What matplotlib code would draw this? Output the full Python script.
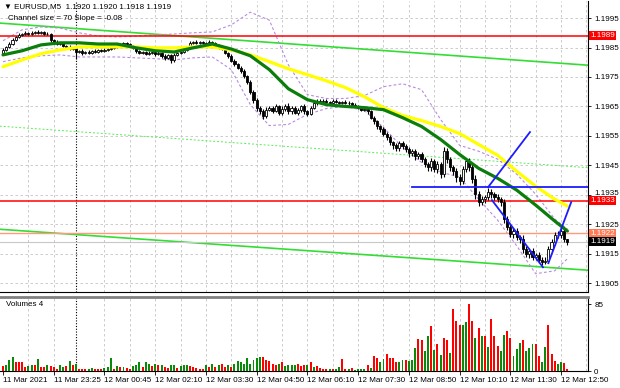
import numpy as np
import matplotlib
matplotlib.use('Agg')
import matplotlib.pyplot as plt
import matplotlib.transforms as mtransforms

plt.rcParams['font.family'] = ['Liberation Sans', 'DejaVu Sans']
FS = 5.8

# --- EURUSD M5 candles (closes in price, wicks in points) ---
first_open = 1.19832
closes = [
    1.19842, 1.19852, 1.19862, 1.19876, 1.19886, 1.19893, 1.19896, 1.19900, 1.19896, 1.19900,
    1.19903, 1.19900, 1.19903, 1.19896, 1.19896, 1.19876, 1.19869, 1.19862, 1.19866, 1.19856,
    1.19852, 1.19845, 1.19849, 1.19835, 1.19839, 1.19832, 1.19835, 1.19832, 1.19839, 1.19835,
    1.19842, 1.19839, 1.19842, 1.19845, 1.19849, 1.19852, 1.19856, 1.19862, 1.19866, 1.19862,
    1.19856, 1.19849, 1.19839, 1.19832, 1.19835, 1.19829, 1.19832, 1.19835, 1.19829, 1.19832,
    1.19822, 1.19815, 1.19825, 1.19808, 1.19825, 1.19832, 1.19835, 1.19842, 1.19852, 1.19866,
    1.19869, 1.19866, 1.19869, 1.19866, 1.19862, 1.19869, 1.19866, 1.19856, 1.19852, 1.19845,
    1.19832, 1.19822, 1.19805, 1.19795, 1.19781, 1.19771, 1.19754, 1.19734, 1.19700, 1.19673,
    1.19646, 1.19633, 1.19619, 1.19639, 1.19646, 1.19636, 1.19650, 1.19629, 1.19643, 1.19653,
    1.19633, 1.19646, 1.19629, 1.19639, 1.19650, 1.19633, 1.19626, 1.19646, 1.19660, 1.19670,
    1.19666, 1.19670, 1.19666, 1.19663, 1.19670, 1.19666, 1.19663, 1.19666, 1.19663, 1.19660,
    1.19656, 1.19653, 1.19646, 1.19639, 1.19643, 1.19633, 1.19612, 1.19599, 1.19582, 1.19572,
    1.19558, 1.19545, 1.19528, 1.19518, 1.19508, 1.19525, 1.19515, 1.19504, 1.19491, 1.19498,
    1.19481, 1.19487, 1.19471, 1.19454, 1.19444, 1.19464, 1.19437, 1.19454, 1.19420, 1.19498,
    1.19471, 1.19444, 1.19430, 1.19410, 1.19396, 1.19437, 1.19464, 1.19444, 1.19403, 1.19352,
    1.19325, 1.19335, 1.19342, 1.19359, 1.19352, 1.19342, 1.19335, 1.19325, 1.19268, 1.19241,
    1.19217, 1.19227, 1.19207, 1.19200, 1.19166, 1.19150, 1.19160, 1.19139, 1.19146, 1.19129,
    1.19123, 1.19126, 1.19166, 1.19190, 1.19214, 1.19214, 1.19227, 1.19200, 1.19190,
]
wick_up = [
    5, 4, 6, 5, 4, 5, 4, 6, 3, 5,   4, 5, 3, 4, 6, 3, 4, 5, 3, 4,
    4, 5, 4, 6, 4, 5, 3, 5, 4, 5,   4, 3, 5, 4, 5, 4, 3, 5, 4, 4,
    3, 4, 5, 4, 3, 4, 5, 3, 4, 5,   4, 5, 3, 4, 5, 4, 3, 5, 4, 5,
    4, 5, 3, 4, 4, 5, 3, 4, 5, 4,   5, 4, 6, 5, 4, 6, 5, 4, 6, 5,
    6, 5, 8, 9, 6, 5, 8, 6, 7, 6,   8, 6, 7, 5, 6, 7, 5, 6, 7, 5,
    4, 5, 4, 3, 5, 4, 3, 4, 5, 4,   4, 5, 3, 4, 5, 4, 6, 5, 6, 5,
    7, 6, 8, 6, 9, 7, 6, 8, 7, 9,   8, 7, 10, 9, 8, 12, 9, 11, 8, 15,
    10, 9, 8, 10, 9, 12, 10, 12, 9, 14,   10, 12, 9, 15, 10, 9, 10, 8, 12, 10,
    9, 11, 10, 8, 12, 10, 9, 11, 8, 10,   9, 12, 10, 11, 9, 12, 10, 8, 0,
]
wick_dn = [
    8, 5, 4, 5, 4, 3, 5, 4, 5, 3,   4, 3, 5, 4, 3, 6, 5, 4, 5, 4,
    5, 4, 5, 25, 5, 6, 4, 5, 4, 5,   4, 5, 3, 4, 4, 5, 3, 4, 5, 4,
    4, 5, 6, 4, 5, 6, 4, 5, 7, 4,   6, 9, 5, 12, 6, 4, 5, 4, 5, 3,
    4, 5, 4, 3, 5, 4, 5, 4, 6, 5,   5, 6, 5, 6, 5, 6, 7, 8, 9, 10,
    12, 10, 13, 7, 6, 8, 6, 9, 7, 8,   7, 9, 6, 8, 7, 9, 8, 6, 5, 4,
    4, 5, 4, 5, 4, 3, 4, 5, 4, 5,   5, 4, 5, 6, 5, 7, 6, 8, 7, 9,
    8, 10, 9, 11, 8, 9, 10, 8, 11, 9,   12, 10, 11, 9, 12, 14, 10, 12, 13, 11,
    12, 14, 13, 15, 12, 10, 11, 13, 14, 16,   12, 11, 13, 10, 12, 11, 10, 14, 13, 12,
    11, 13, 12, 14, 12, 11, 13, 10, 12, 11,   10, 9, 8, 9, 11, 10, 9, 10, 10,
]

volumes = [
    6, 7, 14, 18, 11, 11, 11, 5, 6, 8, 8, 15, 5, 5, 7, 6, 5, 2, 8, 5,
    6, 13, 8, 9, 2, 2, 2, 3, 4, 2, 3, 2, 4, 5, 16, 3, 6, 5, 5, 4,
    3, 6, 7, 11, 5, 11, 9, 6, 9, 7, 7, 5, 4, 7, 8, 4, 6, 8, 8, 6,
    5, 4, 3, 3, 8, 5, 9, 5, 7, 9, 5, 8, 5, 9, 13, 11, 9, 16, 9, 14,
    16, 18, 18, 14, 13, 9, 7, 9, 11, 6, 7, 7, 7, 9, 6, 7, 7,
    11, 5, 6, 4, 3, 3, 2, 3, 2, 5, 15, 3, 2, 4, 1, 2, 3, 3, 8, 4,
    19, 16, 11, 15, 21, 16, 16, 12, 11, 14, 14, 13, 14, 29, 41, 40, 25, 44, 57, 27,
    34, 20, 42, 39, 23, 79, 64, 58, 58, 62, 85, 64, 42, 55, 44, 45, 30, 66, 45, 32,
    25, 46, 51, 42, 19, 28, 35, 40, 25, 29, 34, 34, 19, 11, 30, 59, 22, 13, 9, 11,
    10, 3,
]
vol_colors = ("rgggrrrrggrgrrgrrrgg" "rgrgrrrggrrrgggrgrgr"
              "rgggrggrgrgrrggrgggr" "rrrrgrgrgrrgrggggggg"
              "ggrrrrrgrggggrrr"
              "grgrrrrgrggrrgrggggr" "grrggrrrrggrgggrrggr"
              "grgrrgrrrggrrgrgrgrr" "rggrrgggrgggrrggrrrg" "gr")

time_labels = ["11 Mar 2021", "11 Mar 23:25", "12 Mar 00:45", "12 Mar 02:10",
               "12 Mar 03:30", "12 Mar 04:50", "12 Mar 06:10", "12 Mar 07:30",
               "12 Mar 08:50", "12 Mar 10:10", "12 Mar 11:30", "12 Mar 12:50"]
label_bars = [0, 16, 32, 48, 64, 80, 96, 112, 128, 144, 160, 176]
grid_bars = [8, 16, 32, 40, 48, 56, 64, 72, 80, 88, 96, 104, 112, 120, 128,
             136, 144, 152, 160, 168, 176, 184]
day_break_bar = 23
price_ticks = [1.1995, 1.1985, 1.1975, 1.1965, 1.1955, 1.1945, 1.1935,
               1.1925, 1.1915, 1.1905]

# --- indicators, sampled every 6 bars ---
ind_bars = [0, 6, 12, 18, 24, 30, 36, 42, 48, 54, 60, 66, 72, 78, 84, 90,
            96, 102, 108, 114, 120, 126, 132, 138, 144, 150, 156, 162, 168, 174, 178]
ma_green = [1.19825, 1.19839, 1.19859, 1.19866, 1.19866, 1.19862, 1.19862, 1.19849,
            1.19839, 1.19835, 1.19849, 1.19862, 1.19845, 1.19822, 1.19775, 1.19710,
            1.19673, 1.19656, 1.19650, 1.19646, 1.19639, 1.19612, 1.19582, 1.19538,
            1.19487, 1.19440, 1.19406, 1.19366, 1.19315, 1.19261, 1.19227]
ma_yellow = [1.19785, 1.19808, 1.19829, 1.19842, 1.19852, 1.19852, 1.19852, 1.19852,
             1.19849, 1.19849, 1.19852, 1.19852, 1.19842, 1.19825, 1.19802, 1.19778,
             1.19758, 1.19737, 1.19714, 1.19683, 1.19646, 1.19619, 1.19602, 1.19582,
             1.19558, 1.19521, 1.19484, 1.19430, 1.19379, 1.19335, 1.19312]
band_upper = [1.19873, 1.19910, 1.19920, 1.19916, 1.19900, 1.19889, 1.19886, 1.19889,
              1.19893, 1.19896, 1.19900, 1.19903, 1.19927, 1.19970, 1.19943, 1.19791,
              1.19690, 1.19677, 1.19677, 1.19687, 1.19717, 1.19727, 1.19707, 1.19606,
              1.19518, 1.19498, 1.19471, 1.19420, 1.19352, 1.19268, 1.19234]
band_lower = [1.19802, 1.19815, 1.19822, 1.19825, 1.19818, 1.19818, 1.19818, 1.19815,
              1.19812, 1.19808, 1.19815, 1.19818, 1.19775, 1.19656, 1.19585, 1.19589,
              1.19623, 1.19643, 1.19650, 1.19636, 1.19579, 1.19511, 1.19460, 1.19427,
              1.19410, 1.19335, 1.19264, 1.19177, 1.19082, 1.19092, 1.19133]

# --- chart objects ---
chan_bars = [-1, 184.5]
chan_upper = [1.19933, 1.19790]
chan_mid = [1.19583, 1.19442]
chan_lower = [1.19233, 1.19094]
red_levels = [1.1989, 1.1933]
salmon_level = 1.1922
bid_price = 1.1919
blue_h_bar, blue_h_price = 129, 1.19378
blue_seg_bars = [(153, 166.2), (154.2, 170.3), (172, 179.2)]
blue_seg_prices = [(1.19376, 1.19563), (1.19332, 1.19104), (1.19118, 1.19325)]

W, H = 620, 388
fig = plt.figure(figsize=(W / 100, H / 100), dpi=100)
ax = fig.add_axes([0, 1 - 292 / H, 588 / W, 291 / H])
axv = fig.add_axes([0, 1 - 371 / H, 588 / W, 74 / H])

n = len(closes)
idx = np.arange(n)
c = np.array(closes)
o = np.array([first_open] + closes[:-1])
hi = np.maximum(o, c) + np.array(wick_up) * 1e-5
lo = np.minimum(o, c) - np.array(wick_dn) * 1e-5
bull = c >= o

# grid
for a in (ax, axv):
    for b in grid_bars:
        a.axvline(b, color='#c4c4c4', lw=0.6, ls=(0, (3, 3)), zorder=0)
    a.axvline(day_break_bar, color='black', lw=0.8, ls=(0, (1, 1.5)), zorder=1)
for p in price_ticks:
    ax.axhline(p, color='#c4c4c4', lw=0.6, ls=(0, (3, 3)), zorder=0)

# channel
ax.plot(chan_bars, chan_upper, color='#33dd33', lw=1.2, zorder=2)
ax.plot(chan_bars, chan_lower, color='#33dd33', lw=1.2, zorder=2)
ax.plot(chan_bars, chan_mid, color='#55ee55', lw=0.7, ls=(0, (2, 2)), zorder=2)

# bands
ax.plot(ind_bars, band_upper, color='#b88ae0', lw=0.8, ls=(0, (2.5, 2)), zorder=2)
ax.plot(ind_bars, band_lower, color='#b88ae0', lw=0.8, ls=(0, (2.5, 2)), zorder=2)

# horizontal levels
for lv in red_levels:
    ax.axhline(lv, color='#ff0000', lw=1.1, zorder=3)
ax.axhline(salmon_level, color='#ff9a7a', lw=1.0, zorder=3)
ax.axhline(bid_price, color='#c8c8c8', lw=0.8, zorder=2)

# candles
ax.vlines(idx, lo, hi, color='black', lw=0.8, zorder=4)
ax.bar(idx, c - o, bottom=o, width=0.66,
       color=np.where(bull, 'white', 'black'), edgecolor='black', linewidth=0.6, zorder=5)

# moving averages
ax.plot(ind_bars, ma_yellow, color='#ffff00', lw=2.3, zorder=6,
        solid_capstyle='round', solid_joinstyle='round')
ax.plot(ind_bars, ma_green, color='#0b7d0b', lw=2.3, zorder=6,
        solid_capstyle='round', solid_joinstyle='round')

# blue objects
ax.plot([blue_h_bar, 200], [blue_h_price, blue_h_price], color='#1c1cff', lw=1.3, zorder=7)
for bx, py in zip(blue_seg_bars, blue_seg_prices):
    ax.plot(bx, py, color='#1c1cff', lw=1.3, zorder=7)

ax.set_xlim(-0.95, 184.5)
ax.set_ylim(1.19020, 1.20008)
ax.yaxis.tick_right()
ax.set_yticks(price_ticks)
ax.set_yticklabels([f'{p:.4f}' for p in price_ticks], fontsize=FS)
ax.tick_params(axis='y', length=2.5, width=0.6, pad=2)
ax.set_xticks([])
for s in ('left', 'top'):
    ax.spines[s].set_visible(False)
for s in ('right', 'bottom'):
    ax.spines[s].set_linewidth(0.8)

# nudge the 1.1935 label up so it clears the 1.1933 price box
lift = mtransforms.ScaledTranslation(0, 2.5 / 100, fig.dpi_scale_trans)
for lbl in ax.get_yticklabels():
    if lbl.get_text() == '1.1935':
        lbl.set_transform(lbl.get_transform() + lift)

# price labels on axis
trans = mtransforms.blended_transform_factory(ax.transAxes, ax.transData)
for lv, col in [(red_levels[0], '#ff0000'), (red_levels[1], '#ff0000'),
                (salmon_level, '#ff7a55'), (bid_price, 'black')]:
    ax.text(1.004, lv, f'{lv:.4f}', transform=trans, ha='left', va='center',
            fontsize=FS, color='white', clip_on=False, zorder=10,
            bbox=dict(boxstyle='square,pad=0.12', fc=col, ec='none'))

# volumes
axv.bar(idx, volumes, width=0.62,
        color=['#0a8a0a' if k == 'g' else '#ff0000' for k in vol_colors], zorder=3)
axv.set_xlim(-0.95, 184.5)
axv.set_ylim(0, 94)
axv.yaxis.tick_right()
axv.set_yticks([0, 85])
axv.set_yticklabels(['0', '85'], fontsize=FS)
axv.tick_params(axis='y', length=2.5, width=0.6, pad=2)
axv.set_xticks(label_bars)
axv.set_xticklabels(time_labels, fontsize=FS, ha='left')
axv.tick_params(axis='x', length=3, width=0.6, pad=1.5)
axv.spines['left'].set_visible(False)
axv.spines['top'].set_color('#808080')
axv.spines['top'].set_linewidth(2.0)
for s in ('right', 'bottom'):
    axv.spines[s].set_linewidth(0.8)

fig.text(4 / W, 1 - 7 / H, '\u25bc EURUSD,M5  1.1920 1.1920 1.1918 1.1919',
         fontsize=FS, va='center', ha='left')
fig.text(8 / W, 1 - 19 / H, 'Channel size = 70 Slope = -0.08',
         fontsize=FS, va='center', ha='left')
fig.text(6 / W, 1 - 305 / H, 'Volumes 4', fontsize=FS, va='center', ha='left')

fig.savefig('out.png', dpi=100)
